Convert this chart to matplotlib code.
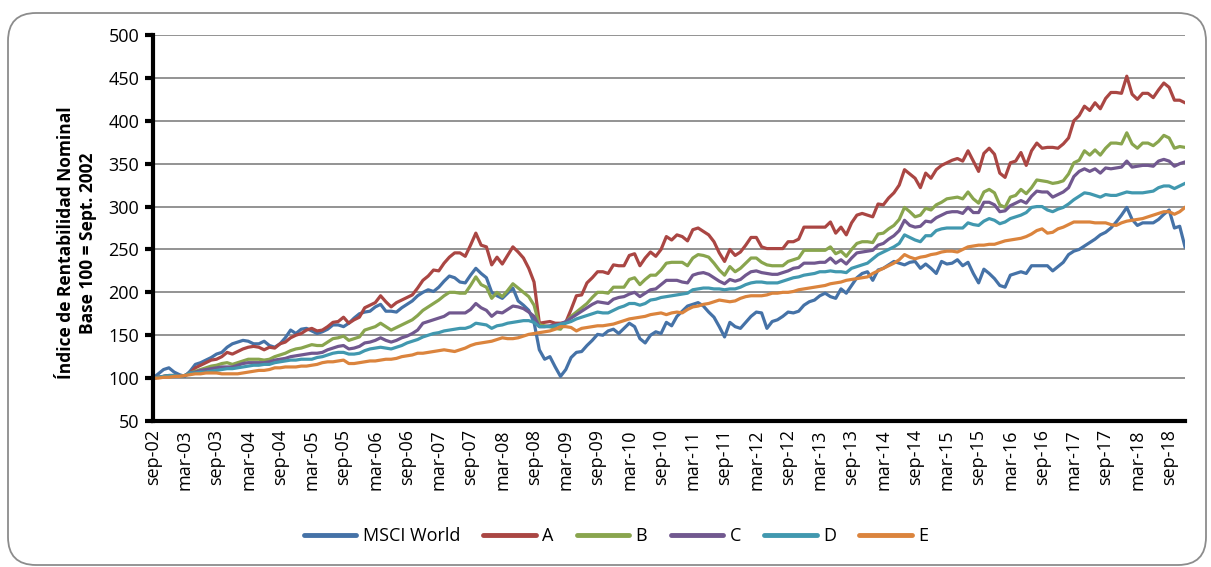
import matplotlib
matplotlib.use("Agg")
import matplotlib.pyplot as plt
from matplotlib.patches import FancyBboxPatch

plt.rcParams['font.family'] = ['Open Sans', 'DejaVu Sans']

# monthly index values, sep-02 .. dec-18 (base 100 = sep-02)
msci_world = [
    100, 105, 110, 112, 107, 104, 102, 108, 116, 118, 121, 124,
    128, 130, 136, 140, 142, 144, 143, 140, 140, 143, 138, 136,
    140, 147, 156, 152, 157, 158, 155, 152, 154, 157, 162, 162,
    160, 164, 170, 175, 177, 178, 183, 186, 178, 178, 177, 182,
    186, 190, 196, 200, 203, 201, 206, 213, 219, 217, 212, 211,
    220, 228, 222, 217, 200, 196, 193, 199, 205, 190, 185, 179,
    165, 133, 122, 125, 113, 102, 110, 124, 130, 131, 138, 144,
    151, 150, 155, 157, 152, 158, 164, 160, 146, 141, 150, 154,
    152, 165, 161, 172, 178, 184, 186, 188, 184, 177, 171, 160,
    148, 165, 160, 158, 165, 172, 177, 176, 158, 166, 168, 172,
    177, 176, 178, 185, 189, 191, 196, 199, 195, 193, 204, 199,
    208, 217, 222, 224, 214, 226, 228, 232, 236, 234, 232, 235,
    236, 228, 233, 228, 222, 236, 233, 234, 238, 231, 235, 222,
    211, 227, 222, 216, 208, 206, 220, 222, 224, 222, 231, 231,
    231, 231, 225, 230, 235, 244, 248, 250, 254, 258, 262, 267,
    270, 275, 282, 290, 299, 285, 278, 281, 281, 281, 285, 291,
    296, 275, 277, 253,
]
fondo_a = [
    100, 101, 102, 103, 103, 102, 103, 106, 112, 115, 118, 121,
    122, 125, 130, 128, 131, 134, 136, 137, 136, 133, 136, 135,
    140, 142, 147, 150, 152, 156, 158, 155, 156, 160, 165, 166,
    171, 164, 168, 171, 182, 185, 188, 196, 189, 183, 188, 191,
    194, 197, 205, 214, 219, 226, 225, 234, 241, 246, 246, 242,
    255, 269, 255, 253, 232, 241, 233, 243, 253, 247, 240, 228,
    212, 164, 165, 166, 164, 164, 165, 180, 196, 197, 211, 217,
    224, 224, 222, 232, 231, 231, 243, 245, 231, 240, 247, 242,
    250, 265, 261, 267, 265, 260, 273, 275, 271, 267, 259, 246,
    236, 250, 243, 247, 255, 264, 264, 253, 251, 251, 251, 251,
    259, 259, 262, 276, 276, 276, 276, 276, 282, 269, 276, 267,
    281, 290, 292, 290, 288, 303, 302, 310, 316, 325, 343, 338,
    333, 322, 339, 333, 343, 348, 351, 354, 356, 353, 365, 353,
    341, 362, 368, 361, 339, 334, 351, 353, 363, 348, 365, 374,
    368, 369, 369, 368, 373, 380, 400, 406, 417, 412, 421, 414,
    426, 433, 433, 432, 452, 431, 425, 432, 432, 427, 436, 444,
    439, 424, 424, 421,
]
fondo_b = [
    100, 101, 102, 103, 103, 102, 103, 106, 108, 110, 112, 114,
    115, 117, 118, 116, 118, 120, 122, 122, 122, 121, 122, 125,
    127, 129, 132, 134, 135, 137, 139, 138, 138, 142, 146, 147,
    149, 144, 146, 148, 156, 158, 160, 164, 160, 156, 159, 162,
    165, 168, 173, 179, 183, 187, 191, 196, 200, 200, 199, 199,
    208, 218, 209, 206, 193, 200, 195, 202, 210, 205, 200, 195,
    185, 162, 161, 160, 158, 157, 165, 172, 177, 182, 187, 194,
    200, 200, 199, 206, 206, 206, 215, 217, 209, 215, 220, 220,
    226, 234, 235, 235, 235, 231, 240, 244, 243, 241, 234, 226,
    220, 230, 224, 228, 234, 240, 240, 235, 232, 231, 231, 231,
    236, 238, 240, 249, 249, 249, 249, 249, 253, 245, 248, 242,
    250, 257, 259, 259, 258, 268, 269, 274, 278, 285, 299, 294,
    288, 290, 298, 296, 302, 305, 309, 310, 311, 309, 317, 309,
    304, 317, 320, 316, 302, 299, 311, 313, 320, 315, 322, 331,
    330, 329, 327, 328, 330, 338, 351, 354, 365, 360, 366, 360,
    368, 374, 374, 373, 386, 373, 368, 374, 374, 371, 376, 383,
    380, 368, 370, 369,
]
fondo_c = [
    100, 101, 102, 103, 103, 102, 103, 106, 107, 109, 110, 111,
    112, 113, 113, 113, 115, 117, 118, 118, 118, 118, 119, 121,
    122, 123, 125, 126, 127, 128, 129, 129, 130, 133, 135, 137,
    138, 134, 135, 137, 141, 142, 144, 147, 144, 142, 144, 147,
    149, 152, 156, 164, 166, 168, 170, 172, 176, 176, 176, 176,
    180, 187, 182, 179, 172, 177, 176, 180, 184, 183, 181, 177,
    172, 160, 160, 161, 162, 163, 166, 170, 174, 178, 182, 186,
    189, 188, 187, 192, 194, 195, 198, 200, 195, 199, 203, 204,
    209, 214, 214, 214, 212, 211, 220, 222, 223, 221, 217, 213,
    210, 215, 213, 215, 220, 224, 225, 223, 222, 221, 221, 223,
    225, 228, 229, 234, 234, 234, 235, 235, 240, 234, 238, 233,
    240, 246, 247, 248, 249, 255, 257, 262, 266, 272, 284, 278,
    276, 277, 283, 282, 287, 290, 293, 294, 294, 292, 299, 293,
    293, 305, 305, 302, 294, 295, 301, 304, 307, 304, 312, 318,
    317, 317, 311, 314, 317, 322, 335, 341, 344, 341, 344, 339,
    345, 344, 345, 346, 353, 346, 347, 348, 348, 347, 353, 355,
    353, 347, 350, 352,
]
fondo_d = [
    100, 101, 102, 103, 103, 102, 103, 106, 106, 107, 107, 108,
    109, 110, 111, 111, 112, 113, 114, 115, 115, 116, 116, 118,
    119, 120, 121, 121, 122, 122, 122, 124, 125, 127, 129, 130,
    130, 128, 128, 129, 132, 134, 135, 136, 135, 134, 136, 138,
    141, 143, 145, 148, 150, 152, 153, 155, 156, 157, 158, 158,
    160, 164, 163, 162, 158, 161, 162, 164, 165, 166, 167, 167,
    165, 160, 160, 160, 161, 163, 164, 166, 169, 171, 173, 175,
    177, 176, 176, 179, 182, 184, 187, 187, 185, 187, 191, 192,
    194, 195, 196, 197, 198, 199, 203, 204, 205, 205, 204, 204,
    203, 204, 204, 206, 209, 211, 212, 212, 211, 211, 211, 213,
    215, 217, 218, 220, 221, 222, 224, 224, 225, 224, 224, 223,
    228, 230, 232, 234, 239, 244, 247, 250, 253, 257, 267, 264,
    261, 259, 266, 266, 272, 274, 275, 275, 275, 275, 281, 279,
    278, 283, 286, 284, 280, 282, 286, 288, 290, 293, 299, 300,
    300, 296, 294, 297, 299, 303, 308, 312, 316, 315, 313, 311,
    314, 313, 313, 315, 317, 316, 316, 316, 317, 318, 322, 324,
    324, 321, 324, 327,
]
fondo_e = [
    100, 100, 101, 101, 102, 102, 103, 104, 105, 105, 106, 106,
    106, 105, 105, 105, 105, 106, 107, 108, 109, 109, 110, 112,
    112, 113, 113, 113, 114, 114, 115, 116, 118, 119, 119, 120,
    121, 117, 117, 118, 119, 120, 120, 121, 122, 122, 123, 125,
    126, 127, 129, 129, 130, 131, 132, 133, 132, 131, 133, 135,
    138, 140, 141, 142, 143, 145, 147, 146, 146, 147, 149, 151,
    152, 153, 154, 155, 157, 160, 160, 159, 155, 158, 159, 160,
    161, 161, 162, 163, 165, 167, 169, 170, 171, 172, 174, 175,
    176, 174, 176, 177, 176, 180, 183, 184, 186, 187, 189, 191,
    190, 189, 190, 193, 195, 196, 196, 196, 197, 199, 199, 200,
    200, 201, 203, 204, 205, 206, 207, 208, 210, 211, 212, 214,
    215, 216, 217, 218, 222, 225, 228, 231, 234, 238, 244, 241,
    239, 241, 242, 244, 245, 247, 248, 248, 247, 250, 253, 254,
    255, 255, 256, 256, 258, 260, 261, 262, 263, 265, 268, 272,
    274, 269, 270, 274, 276, 279, 282, 282, 282, 282, 281, 281,
    281, 279, 278, 281, 283, 284, 285, 286, 288, 290, 292, 294,
    294, 291, 294, 299,
]

series_names = ["MSCI World", "A", "B", "C", "D", "E"]
series_values = [msci_world, fondo_a, fondo_b, fondo_c, fondo_d, fondo_e]
series_colors = ["#4572A7", "#AA4643", "#89A54E", "#71588F", "#4198AF", "#DB843D"]

# x labels every 6 months
tick_labels = []
for yy in range(2, 19):
    if yy > 2:
        tick_labels.append("mar-%02d" % yy)
    tick_labels.append("sep-%02d" % yy)

fig = plt.figure(figsize=(12.11, 5.67), dpi=100)
ax = fig.add_axes([153 / 1211, 1 - 421 / 567, (1185 - 153) / 1211, (421 - 35) / 567])

n = len(msci_world)
xs = list(range(n))
for name, vals, col in zip(series_names, series_values, series_colors):
    ax.plot(xs, vals, color=col, lw=2.3, label=name, solid_joinstyle='round')

ax.set_xlim(0, n - 1)
ax.set_ylim(50, 500)
ax.set_yticks(range(50, 501, 50))
ax.set_xticks(range(0, n, 6))
ax.set_xticklabels(tick_labels, rotation=90, fontsize=13)
ax.tick_params(axis='x', length=0, pad=6)
ax.tick_params(axis='y', length=6, width=3, labelsize=13, pad=4)
ax.yaxis.grid(True, color='#8a8a8a', lw=1.3)
ax.set_axisbelow(True)
for s in ['top', 'right']:
    ax.spines[s].set_visible(False)
for s in ['left', 'bottom']:
    ax.spines[s].set_linewidth(3)
    ax.spines[s].set_color('black')

fig.text(77 / 1211, 1 - 243 / 567,
         "Índice de Rentabilidad Nominal\nBase 100 = Sept. 2002",
         rotation=90, ha='center', va='center', multialignment='center',
         fontsize=12.5, fontweight='bold', linespacing=1.25)

leg = fig.legend(loc='center', bbox_to_anchor=(616 / 1211, 1 - 536 / 567), ncol=6,
                 frameon=False, fontsize=13, handlelength=2.9, columnspacing=1.3,
                 handletextpad=0.35)
for line in leg.get_lines():
    line.set_linewidth(3.5)
    line.set_solid_capstyle('round')

border = FancyBboxPatch((0.08, 0.02), 11.98, 5.52, boxstyle="round,pad=0,rounding_size=0.28",
                        transform=fig.dpi_scale_trans, fill=False, ec='#8c8c8c', lw=1.3)
fig.patches.append(border)

fig.savefig("out.png", dpi=100)
